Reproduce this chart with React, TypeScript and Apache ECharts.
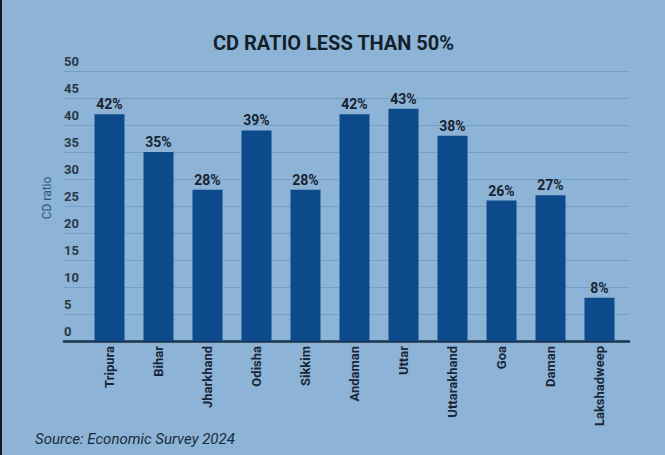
import React, { useEffect, useRef } from "react";
import * as echarts from "echarts";

const categories = ["Tripura", "Bihar", "Jharkhand", "Odisha", "Sikkim", "Andaman", "Uttar", "Uttarakhand", "Goa", "Daman", "Lakshadweep"];
const cdRatio = [42, 35, 28, 39, 28, 42, 43, 38, 26, 27, 8];
const yTicks = { min: 0, max: 50, interval: 5 };

export default function App() {
  const ref = useRef<HTMLDivElement>(null);
  useEffect(() => {
    if (!ref.current) return;
    const chart = echarts.init(ref.current, undefined, { renderer: "svg" });
    chart.setOption({
      animation: false,
      backgroundColor: "#8db4d6",
      title: {
        text: "CD RATIO LESS THAN 50%",
        left: "center",
        top: 28,
        textStyle: { fontFamily: "Roboto", fontWeight: "bold", fontSize: 20, color: "#141f2c" },
      },
      graphic: [
        {
          type: "text",
          left: 33,
          top: 431,
          style: { text: "Source: Economic Survey 2024", fontFamily: "Roboto", fontStyle: "italic", fontSize: 15, fill: "#182a40" },
        },
      ],
      grid: [
        { left: 62, right: 36, top: 71, bottom: 114 },
        { left: 83, right: 41, top: 71, bottom: 114 },
      ],
      xAxis: [
        {
          gridIndex: 0,
          type: "value",
          min: 0,
          max: 1,
          axisLine: { show: true, lineStyle: { color: "#1b344c", width: 2.5 } },
          axisTick: { show: false },
          axisLabel: { show: false },
          splitLine: { show: false },
        },
        {
          gridIndex: 1,
          type: "category",
          data: categories,
          axisLine: { show: false },
          axisTick: { show: false },
          axisLabel: {
            rotate: 90,
            margin: 5,
            fontFamily: "Roboto",
            fontWeight: "bold",
            fontSize: 13,
            color: "#1a2636",
          },
        },
      ],
      yAxis: [
        {
          gridIndex: 0,
          type: "value",
          min: yTicks.min,
          max: yTicks.max,
          interval: yTicks.interval,
          name: "CD ratio",
          nameLocation: "middle",
          nameGap: 3,
          nameTextStyle: { fontFamily: "Roboto", fontSize: 12, color: "#285878", padding: [0, 0, 0, 16] },
          axisLine: { show: false },
          axisTick: { show: false },
          axisLabel: {
            inside: true,
            margin: 0,
            verticalAlign: "bottom",
            padding: [0, 0, 3, 0],
            fontFamily: "Roboto",
            fontWeight: "bold",
            fontSize: 13,
            color: "#2a3848",
          },
          splitLine: { show: true, lineStyle: { color: "#779fc2", width: 1 } },
        },
        {
          gridIndex: 1,
          type: "value",
          min: yTicks.min,
          max: yTicks.max,
          interval: yTicks.interval,
          show: false,
        },
      ],
      series: [
        {
          type: "bar",
          xAxisIndex: 1,
          yAxisIndex: 1,
          data: cdRatio,
          barWidth: 30,
          itemStyle: { color: "#0c4a8b" },
          label: {
            show: true,
            position: "top",
            distance: 3,
            formatter: "{c}%",
            fontFamily: "Roboto",
            fontWeight: "bold",
            fontSize: 14,
            color: "#172333",
          },
        },
      ],
    });
    return () => chart.dispose();
  }, []);
  return (
    <div
      ref={ref}
      style={{ position: "fixed", left: 0, top: 0, width: 665, height: 455, borderLeft: "2px solid #1a1a1a", boxSizing: "border-box" }}
    />
  );
}
